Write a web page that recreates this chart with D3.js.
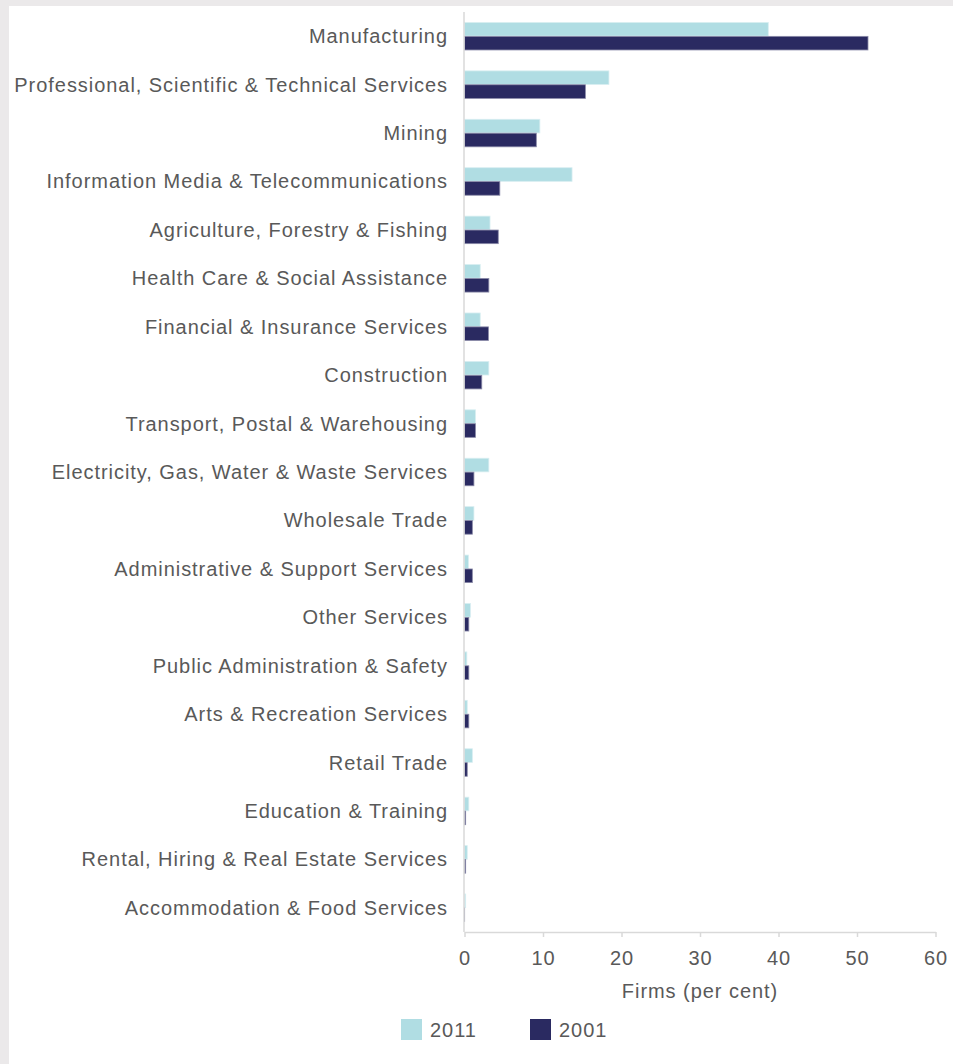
<!DOCTYPE html>
<html><head><meta charset="utf-8">
<script src="https://cdn.jsdelivr.net/npm/d3@7"></script>
<style>
html,body{margin:0;padding:0;background:#ebe9ea;}
svg{display:block;}
text{font-family:"Liberation Sans",Arial,sans-serif;fill:#595959;letter-spacing:0.95px;}
</style></head>
<body>
<svg id="chart" width="953" height="1064"></svg>
<script>
const categories = [
  "Manufacturing",
  "Professional, Scientific & Technical Services",
  "Mining",
  "Information Media & Telecommunications",
  "Agriculture, Forestry & Fishing",
  "Health Care & Social Assistance",
  "Financial & Insurance Services",
  "Construction",
  "Transport, Postal & Warehousing",
  "Electricity, Gas, Water & Waste Services",
  "Wholesale Trade",
  "Administrative & Support Services",
  "Other Services",
  "Public Administration & Safety",
  "Arts & Recreation Services",
  "Retail Trade",
  "Education & Training",
  "Rental, Hiring & Real Estate Services",
  "Accommodation & Food Services"
];
const values2011 = [38.7, 18.4, 9.6, 13.7, 3.25, 2.0, 2.0, 3.1, 1.4, 3.1, 1.2, 0.5, 0.75, 0.3, 0.35, 1.0, 0.55, 0.35, 0.15];
const values2001 = [51.4, 15.4, 9.15, 4.5, 4.3, 3.1, 3.05, 2.2, 1.4, 1.2, 1.0, 1.0, 0.55, 0.55, 0.55, 0.35, 0.15, 0.15, 0.02];
const seriesNames = ["2011", "2001"];
const xTicks = [0, 10, 20, 30, 40, 50, 60];
const xTitle = "Firms (per cent)";

const colors = {"2011": "#b0dde3", "2001": "#2a2a61"};
const strokes = {"2011": "#d8eef1", "2001": "#8a8aa8"};

const svg = d3.select("#chart");
svg.append("rect").attr("x", 9).attr("y", 6).attr("width", 944).attr("height", 1058).attr("fill", "#ffffff");

const plotLeft = 464.5, plotRight = 935.5, plotTop = 12, plotBottom = 932;
const x = d3.scaleLinear().domain([0, 60]).range([plotLeft, plotRight]);
const y = d3.scaleBand().domain(categories).range([plotTop, plotBottom]).paddingInner(0.42).paddingOuter(0.21);
const y1 = d3.scaleBand().domain(seriesNames).range([0, y.bandwidth()]).padding(0.02);

const data = categories.map((c, i) => ({cat: c, vals: [{s: "2011", v: values2011[i]}, {s: "2001", v: values2001[i]}]}));

const g = svg.append("g");
const groups = g.selectAll("g.cat").data(data).join("g").attr("class", "cat")
  .attr("transform", d => `translate(0,${y(d.cat)})`);
groups.selectAll("rect").data(d => d.vals).join("rect")
  .attr("x", x(0))
  .attr("y", d => y1(d.s))
  .attr("width", d => Math.max(0, x(d.v) - x(0)))
  .attr("height", y1.bandwidth())
  .attr("fill", d => colors[d.s])
  .attr("stroke", d => strokes[d.s])
  .attr("stroke-width", 0.8);

svg.append("line").attr("x1", plotLeft - 0.5).attr("x2", plotLeft - 0.5).attr("y1", plotTop).attr("y2", plotBottom)
  .attr("stroke", "#d9d9d9").attr("stroke-width", 1.5);

svg.append("g").selectAll("text").data(categories).join("text")
  .attr("x", 448)
  .attr("y", d => y(d) + y.bandwidth() / 2)
  .attr("dy", "0.35em")
  .attr("text-anchor", "end")
  .attr("font-size", "20px")
  .text(d => d);

const xAxis = d3.axisBottom(x).tickValues(xTicks).tickSize(5).tickPadding(14).tickSizeOuter(0);
const ax = svg.append("g").attr("transform", `translate(0,${plotBottom})`).call(xAxis);
ax.select(".domain").attr("stroke", "#d9d9d9").attr("stroke-width", 1.5);
ax.selectAll(".tick line").attr("stroke", "#d9d9d9").attr("stroke-width", 1.5);
ax.selectAll(".tick text").attr("font-size", "20px").attr("fill", "#595959")
  .style("font-family", '"Liberation Sans",Arial,sans-serif');

svg.append("text").attr("x", (plotLeft + plotRight) / 2).attr("y", 998).attr("text-anchor", "middle")
  .attr("font-size", "20px").text(xTitle);

const legendX = [401, 530];
const lg = svg.append("g").selectAll("g").data(seriesNames).join("g")
  .attr("transform", (d, i) => `translate(${legendX[i]},1019)`);
lg.append("rect").attr("width", 21).attr("height", 21).attr("fill", d => colors[d]);
lg.append("text").attr("x", 29).attr("y", 10.5).attr("dy", "0.35em").attr("font-size", "20px").text(d => d);
</script>
</body></html>
